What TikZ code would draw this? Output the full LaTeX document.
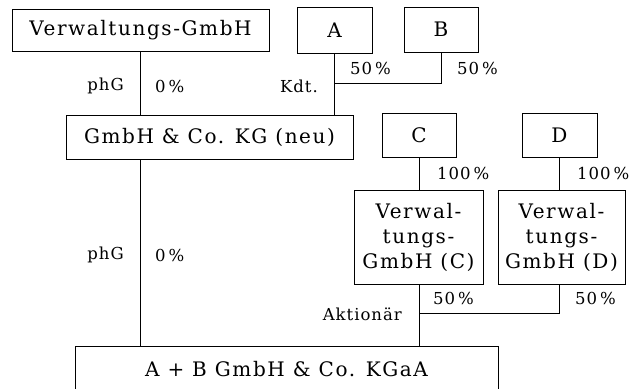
\documentclass[tikz,border=0pt]{standalone}
\usepackage{fontspec}
\setmainfont[LetterSpace=8]{DejaVu Serif}
\newfontfamily\lblfont[LetterSpace=6]{DejaVu Serif}
\newcommand{\pct}[1]{#1\hspace{3pt}\%}
\begin{document}
\begin{tikzpicture}[x=1pt,y=-1pt,
  box/.style={draw, line width=0.8pt, inner sep=0pt, align=center, font=\fontsize{20}{25}\selectfont},
  lbl/.style={inner sep=0pt, font=\lblfont\fontsize{16.5}{18}\selectfont},
  ln/.style={line width=0.8pt}]
\useasboundingbox (0,0) rectangle (631,388);
% boxes
\node[box, minimum width=257pt, minimum height=42pt] (vg) at (140.5,30) {Verwaltungs-GmbH};
\node[box, minimum width=75pt, minimum height=46pt] (a) at (334.5,30) {A};
\node[box, minimum width=74pt, minimum height=45pt] (b) at (441,29.5) {B};
\node[box, minimum width=287pt, minimum height=44pt] (kg) at (209.5,137) {GmbH \& Co. KG (neu)};
\node[box, minimum width=74pt, minimum height=44pt] (c) at (419,135) {C};
\node[box, minimum width=75pt, minimum height=44pt] (d) at (559.5,135) {D};
\node[box, minimum width=129pt, minimum height=94pt] (vc) at (418.5,237) {Verwal-\\tungs-\\GmbH (C)};
\node[box, minimum width=127pt, minimum height=94pt] (vd) at (561.5,237) {Verwal-\\tungs-\\GmbH (D)};
\node[box, minimum width=423pt, minimum height=46pt] (kgaa) at (286.5,369) {A + B GmbH \& Co. KGaA};
% junctions
\coordinate (j1) at (334,83);
\coordinate (j2) at (419,313);
\coordinate (dx) at (559,0);
% connectors
\draw[ln] (vg.south) -- (vg.south |- kg.north);
\draw[ln] (a.south) -- (a.south |- kg.north);
\draw[ln] (b.south) -- (b.south |- j1) -- (j1);
\draw[ln] (kg.south -| vg.south) -- (vg.south |- kgaa.north);
\draw[ln] (c.south) -- (c.south |- vc.north);
\draw[ln] (dx |- d.south) -- (dx |- vd.north);
\draw[ln] (vc.south -| j2) -- (j2 |- kgaa.north);
\draw[ln] (dx |- vd.south) -- (dx |- j2) -- (j2);
% labels
\node[lbl, anchor=east] (l1) at (124,86) {phG};
\node[lbl, anchor=west] (l2) at (155,86) {\pct{0}};
\node[lbl, anchor=east] (l3) at (318,86) {Kdt.};
\node[lbl, anchor=west] (l4) at (350,68) {\pct{50}};
\node[lbl, anchor=west] (l5) at (457,68) {\pct{50}};
\node[lbl, anchor=west] (l6) at (437,173) {\pct{100}};
\node[lbl, anchor=west] (l7) at (577,173) {\pct{100}};
\node[lbl, anchor=east] (l8) at (124,255) {phG};
\node[lbl, anchor=west] (l9) at (155,255) {\pct{0}};
\node[lbl, anchor=west] (l10) at (433,298) {\pct{50}};
\node[lbl, anchor=west] (l11) at (575,298) {\pct{50}};
\node[lbl, anchor=east] (l12) at (402,314) {Aktionär};
\end{tikzpicture}
\end{document}
